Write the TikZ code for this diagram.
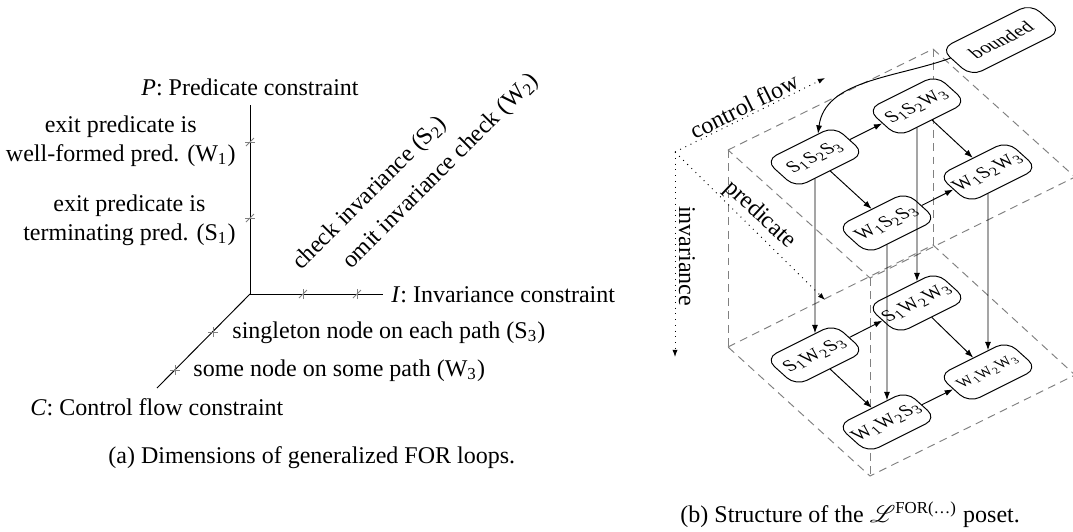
\documentclass[tikz,border=0pt]{standalone}
\usepackage{amsmath}
\usepackage{mathrsfs}
\usepackage{fontspec}
\setmainfont{Liberation Serif}
\usetikzlibrary{arrows.meta}
\newcommand\slabnode[5][]{\node[slab,#1,cm={0.894,0.447,-0.743,0.669,(#3,#4)}] (#2) at (0,0) {#5};}
\newcommand\sub[1]{\textsubscript{#1}}
\begin{document}
\begin{tikzpicture}[x=0.416589pt, y=0.416589pt,
  tk/.style={gray, line width=0.4pt},
  lbl/.style={font=\fontsize{10}{12}\selectfont, inner sep=0pt},
  slab/.style={draw, fill=white, rounded corners=5pt, transform shape,
    minimum width=32pt, minimum height=17pt, inner sep=1pt,
    font=\fontsize{8}{9}\selectfont},
  pl/.style={gray, dash pattern=on 3.3pt off 2.3pt, line width=0.4pt},
  dt/.style={dotted, -{Latex[length=3pt,width=2.2pt]}},
  ar/.style={-{Latex[length=3.5pt,width=2.5pt]}, line width=0.4pt}]
\useasboundingbox (0,0) rectangle (1073,-531);

% ---------------- (a) ----------------
\coordinate (O) at (250,-294);
\coordinate (Pe) at (250,-105);
\coordinate (Ie) at (383,-294);
\coordinate (Ce) at (157,-388);
\draw (Pe) -- (O) -- (Ie);
\draw (O) -- (Ce);
% ticks on P axis
\foreach \yy in {-142,-218}{
  \draw[tk] (250,\yy) ++(-5,0) -- ++(10,0);
  \draw[tk] (250,\yy) ++(-4,-4) -- ++(8,8);}
% ticks on I axis
\foreach \xx in {303,357}{
  \draw[tk] (\xx,-294) ++(0,-5) -- ++(0,10);
  \draw[tk] (\xx,-294) ++(-4,-4) -- ++(8,8);}
% ticks on C axis
\foreach \xx/\yy in {213/-332,175/-370}{
  \draw[tk] (\xx,\yy) ++(-5,0) -- ++(10,0);
  \draw[tk] (\xx,\yy) ++(0,-5) -- ++(0,10);}

\node[lbl, anchor=base] (plab) at (250,-95) {\textit{P}: Predicate constraint};
\node[lbl, anchor=east, align=center] (w1lab) at (236,-141) {exit predicate is\\well-formed pred. (W\sub{1})};
\node[lbl, anchor=east, align=center] (s1lab) at (236,-220) {exit predicate is\\terminating pred. (S\sub{1})};
\node[lbl, anchor=base west, rotate=45] (s2lab) at (301,-271) {check invariance (S\sub{2})};
\node[lbl, anchor=base west, rotate=45] (w2lab) at (351,-270) {omit invariance check (W\sub{2})};
\node[lbl, anchor=base west] (ilab) at (391,-302) {\textit{I}: Invariance constraint};
\node[lbl, anchor=base west] (s3lab) at (232,-338) {singleton node on each path (S\sub{3})};
\node[lbl, anchor=base west] (w3lab) at (193,-376) {some node on some path (W\sub{3})};
\node[lbl, anchor=base west] (clab) at (30,-415) {\textit{C}: Control flow constraint};
\node[lbl, anchor=base west] (capa) at (108,-463) {(a) Dimensions of generalized FOR loops.};

% ---------------- (b) ----------------
% dashed planes
\coordinate (A) at (728,-150); \coordinate (B) at (933,-49);
\coordinate (C) at (1075,-177); \coordinate (D) at (870,-278);
\coordinate (A2) at (728,-347); \coordinate (B2) at (933,-245);
\coordinate (C2) at (1075,-375); \coordinate (D2) at (870,-476);
\draw[pl] (A) -- (B) -- (C) -- (D) -- cycle;
\draw[pl] (A2) -- (B2) -- (C2) -- (D2) -- cycle;
\draw[pl] (A) -- (A2) (B) -- (B2) (D) -- (D2);

% dotted axes
\coordinate (Od) at (675,-152);
\coordinate (cfE) at (825,-78);
\coordinate (prE) at (825,-300);
\coordinate (inE) at (675,-357);
\draw[dt] (Od) -- (cfE);
\draw[dt] (Od) -- (prE);
\draw[dt] (Od) -- (inE);
\node[lbl, rotate=26.6] (cflab) at (744,-106) {control flow};
\node[lbl, rotate=-43] (prlab) at (760,-215) {predicate};
\node[lbl, rotate=-90] (inlab) at (687,-256) {invariance};

% nodes
\slabnode[minimum width=42pt]{bnd}{1001}{-40}{bounded}
\slabnode{sss}{815}{-157}{S\sub{1}S\sub{2}S\sub{3}}
\slabnode{ssw}{917}{-106}{S\sub{1}S\sub{2}W\sub{3}}
\slabnode{wss}{887}{-223}{W\sub{1}S\sub{2}S\sub{3}}
\slabnode{wsw}{988}{-172}{W\sub{1}S\sub{2}W\sub{3}}
\slabnode{sws}{815}{-355}{S\sub{1}W\sub{2}S\sub{3}}
\slabnode{sww}{917}{-303}{S\sub{1}W\sub{2}W\sub{3}}
\slabnode{wws}{887}{-422}{W\sub{1}W\sub{2}S\sub{3}}
\slabnode[font=\fontsize{6.5}{8}\selectfont]{www}{988}{-372}{W\sub{1}W\sub{2}W\sub{3}}

% edges
\draw[ar] (bnd) .. controls (895,-78) and (825,-80) .. (sss);
\draw[ar] (sss) -- (ssw);
\draw[ar] (sss) -- (wss);
\draw[ar] (ssw) -- (wsw);
\draw[ar] (wss) -- (wsw);
\draw[ar] (sws) -- (sww);
\draw[ar] (sws) -- (wws);
\draw[ar] (sww) -- (www);
\draw[ar] (wws) -- (www);
\draw[ar] (sss) -- (sws);
\draw[ar] (ssw) -- (sww);
\draw[ar] (wss) -- (wws);
\draw[ar] (wsw) -- (www);

\node[lbl, anchor=base west] (capb) at (680,-522) {(b) Structure of the $\mathscr{L}^{\text{FOR(\ldots)}}$ poset.};
\end{tikzpicture}
\end{document}
